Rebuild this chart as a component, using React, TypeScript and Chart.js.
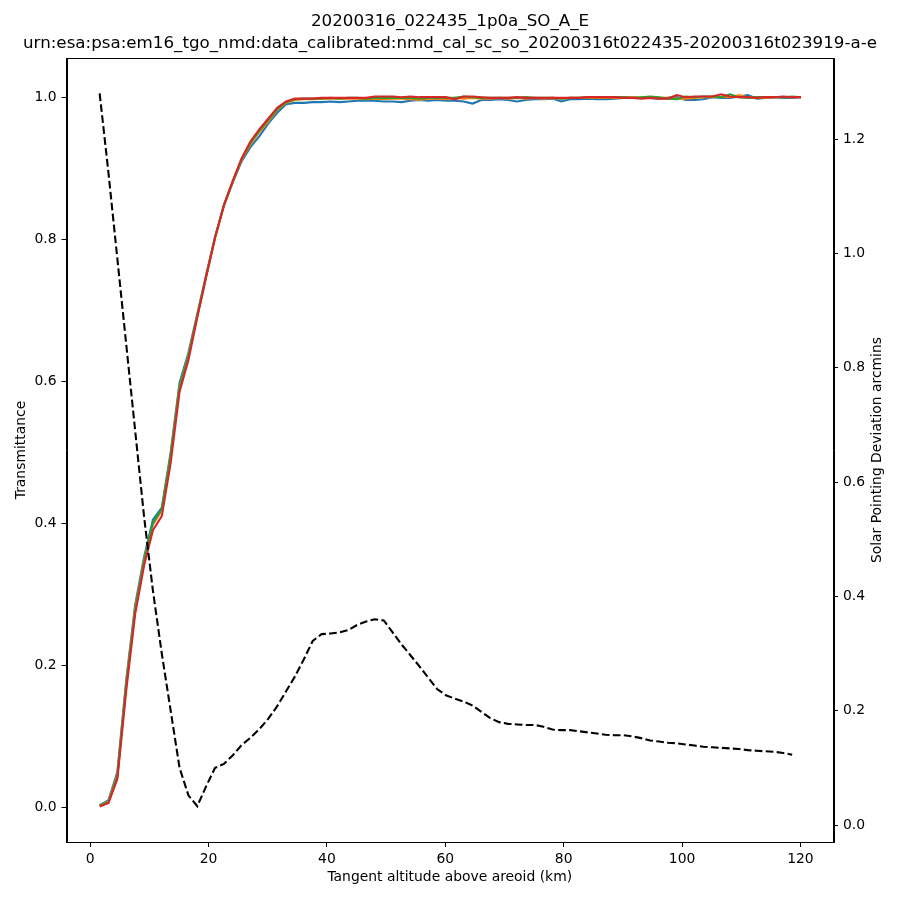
import React, { useEffect, useRef } from 'react';
import { Chart, registerables } from 'chart.js';

Chart.register(...registerables);

const titleLines = [
  '20200316_022435_1p0a_SO_A_E',
  'urn:esa:psa:em16_tgo_nmd:data_calibrated:nmd_cal_sc_so_20200316t022435-20200316t023919-a-e',
];
const xLabel = 'Tangent altitude above areoid (km)';
const yLeftLabel = 'Transmittance';
const yRightLabel = 'Solar Pointing Deviation arcmins';

const xTicks = [0, 20, 40, 60, 80, 100, 120];
const yLeftTicks = [0.0, 0.2, 0.4, 0.6, 0.8, 1.0];
const yRightTicks = [0.0, 0.2, 0.4, 0.6, 0.8, 1.0, 1.2];

const altitudes = [
  1.6, 3.1, 4.6, 6.1, 7.6, 9.1, 10.6, 12.1, 13.6, 15.1, 16.6, 18.1, 19.6, 21.1, 22.6, 24.1,
  25.6, 27.1, 28.6, 30.1, 31.6, 33.1, 34.6, 36.1, 37.6, 39.1, 40.6, 42.1, 43.6, 45.1, 46.6,
  48.1, 49.6, 51.1, 52.6, 54.1, 55.6, 57.1, 58.6, 60.1, 61.6, 63.1, 64.6, 66.1, 67.6, 69.1,
  70.6, 72.1, 73.6, 75.1, 76.6, 78.1, 79.6, 81.1, 82.6, 84.1, 85.6, 87.1, 88.6, 90.1, 91.6,
  93.1, 94.6, 96.1, 97.6, 99.1, 100.6, 102.1, 103.6, 105.1, 106.6, 108.1, 109.6, 111.1,
  112.6, 114.1, 115.6, 117.1, 118.6, 120.1,
];

const transBlue = [
  0.003, 0.010, 0.050, 0.180, 0.285, 0.352, 0.405, 0.422, 0.500, 0.598, 0.640, 0.695, 0.750,
  0.803, 0.848, 0.880, 0.910, 0.930, 0.945, 0.963, 0.978, 0.990, 0.992, 0.992, 0.993, 0.993,
  0.994, 0.993, 0.994, 0.995, 0.995, 0.995, 0.994, 0.994, 0.993, 0.995, 0.996, 0.995, 0.996,
  0.995, 0.995, 0.994, 0.991, 0.996, 0.996, 0.997, 0.996, 0.994, 0.996, 0.997, 0.997, 0.998,
  0.994, 0.997, 0.997, 0.998, 0.997, 0.997, 0.998, 0.999, 0.999, 0.999, 0.999, 0.998, 0.999,
  1.000, 0.996, 0.996, 0.997, 1.000, 0.999, 0.999, 1.001, 1.003, 0.998, 0.999, 1.000, 0.999,
  0.999, 1.000,
];

const transOrange = [
  0.002, 0.008, 0.046, 0.175, 0.280, 0.348, 0.398, 0.418, 0.495, 0.593, 0.636, 0.692, 0.748,
  0.802, 0.847, 0.881, 0.912, 0.934, 0.951, 0.966, 0.982, 0.992, 0.996, 0.997, 0.997, 0.998,
  0.998, 0.998, 0.998, 0.998, 0.997, 0.998, 0.997, 0.998, 0.998, 0.997, 0.996, 0.998, 0.998,
  0.997, 0.999, 0.998, 0.999, 0.998, 0.998, 0.999, 0.998, 0.999, 0.998, 0.999, 0.998, 0.999,
  0.998, 0.999, 0.999, 0.999, 0.999, 0.999, 0.999, 0.999, 1.000, 0.999, 0.999, 0.999, 0.999,
  0.998, 0.998, 0.999, 1.000, 1.000, 1.001, 1.000, 1.003, 1.000, 0.999, 0.999, 1.000, 1.000,
  1.000, 1.000,
];

const transGreen = [
  0.002, 0.007, 0.044, 0.173, 0.278, 0.346, 0.400, 0.420, 0.495, 0.592, 0.635, 0.692, 0.748,
  0.803, 0.848, 0.882, 0.913, 0.936, 0.953, 0.968, 0.983, 0.993, 0.997, 0.998, 0.998, 0.998,
  0.999, 0.998, 0.999, 0.999, 0.998, 0.999, 0.999, 0.999, 0.999, 0.999, 0.998, 0.999, 0.999,
  0.999, 0.999, 1.001, 1.000, 0.999, 0.999, 0.999, 0.999, 0.999, 1.000, 0.999, 0.999, 0.999,
  0.998, 0.999, 0.999, 1.000, 1.000, 1.000, 1.000, 1.000, 0.999, 1.000, 1.001, 1.000, 0.998,
  0.997, 1.001, 1.000, 1.001, 1.001, 1.000, 1.004, 1.000, 0.999, 1.000, 1.000, 1.000, 1.000,
  1.001, 1.000,
];

const transRed = [
  0.001, 0.006, 0.040, 0.165, 0.272, 0.340, 0.390, 0.410, 0.485, 0.585, 0.630, 0.690, 0.747,
  0.802, 0.848, 0.882, 0.914, 0.938, 0.955, 0.970, 0.985, 0.994, 0.998, 0.998, 0.998, 0.999,
  0.999, 0.999, 0.999, 0.999, 0.999, 1.001, 1.001, 1.001, 1.000, 1.001, 1.000, 1.000, 1.000,
  1.000, 0.997, 1.001, 1.001, 1.000, 0.999, 0.999, 0.999, 1.000, 0.999, 0.999, 0.999, 0.999,
  0.999, 0.999, 0.999, 1.000, 1.000, 1.000, 1.000, 0.999, 0.999, 0.998, 0.999, 0.998, 0.998,
  1.003, 1.000, 1.001, 1.001, 1.001, 1.004, 1.001, 1.000, 1.000, 0.999, 1.000, 1.000, 1.001,
  1.000, 1.000,
];

// one value per altitude, except the last altitude
const pointingDeviation = [
  1.28, 1.14, 0.99, 0.84, 0.69, 0.54, 0.41, 0.30, 0.20, 0.10, 0.052, 0.033, 0.068, 0.100,
  0.107, 0.122, 0.140, 0.153, 0.168, 0.186, 0.208, 0.234, 0.260, 0.290, 0.322, 0.334, 0.335,
  0.337, 0.341, 0.350, 0.356, 0.360, 0.358, 0.337, 0.316, 0.297, 0.278, 0.258, 0.238, 0.227,
  0.221, 0.216, 0.209, 0.198, 0.187, 0.180, 0.177, 0.176, 0.175, 0.175, 0.172, 0.167, 0.166,
  0.166, 0.164, 0.162, 0.160, 0.158, 0.157, 0.157, 0.155, 0.152, 0.148, 0.146, 0.144, 0.143,
  0.141, 0.139, 0.137, 0.136, 0.135, 0.134, 0.133, 0.131, 0.130, 0.129, 0.128, 0.126, 0.123,
];

const seriesColors = ['#1f77b4', '#ff7f0e', '#2ca02c', '#d62728'];

const FONT = 'DejaVu Sans';

const frame = {
  id: 'frame',
  afterDraw(chart: any) {
    const { ctx, chartArea } = chart;
    ctx.save();
    ctx.strokeStyle = '#000';
    ctx.lineWidth = 1;
    ctx.strokeRect(
      Math.round(chartArea.left) + 0.5,
      Math.round(chartArea.top) + 0.5,
      Math.round(chartArea.right - chartArea.left),
      Math.round(chartArea.bottom - chartArea.top)
    );
    // right axis title, rotated like matplotlib (reads bottom to top)
    const cx = chart.width - 23;
    const cy = (chartArea.top + chartArea.bottom) / 2;
    ctx.translate(cx, cy);
    ctx.rotate(-Math.PI / 2);
    ctx.fillStyle = '#000';
    ctx.font = `13.9px "${FONT}"`;
    ctx.textAlign = 'center';
    ctx.textBaseline = 'middle';
    ctx.fillText(yRightLabel, 0, 0);
    ctx.restore();
  },
};

export default function App() {
  const ref = useRef<HTMLCanvasElement>(null);

  useEffect(() => {
    if (!ref.current) return;
    const toPts = (arr: number[]) => arr.map((y, i) => ({ x: altitudes[i], y }));
    const transSeries = [transBlue, transOrange, transGreen, transRed];

    const datasets: any[] = transSeries.map((arr, i) => ({
      label: `T${i}`,
      data: toPts(arr),
      borderColor: seriesColors[i],
      backgroundColor: seriesColors[i],
      borderWidth: 2.1,
      pointRadius: 0,
      yAxisID: 'y',
      order: 4 - i,
    }));
    datasets.push({
      label: 'pointing',
      data: toPts(pointingDeviation),
      borderColor: '#000',
      backgroundColor: '#000',
      borderWidth: 2.1,
      borderDash: [7.7, 3.3],
      pointRadius: 0,
      yAxisID: 'y1',
      order: 0,
    });

    const tickFont = { family: FONT, size: 13.9 };
    const labelFont = { family: FONT, size: 13.9 };
    const gridOpts = {
      drawOnChartArea: false,
      drawTicks: true,
      tickLength: 5,
      color: '#000',
      tickColor: '#000',
      tickWidth: 1,
    };
    const borderOpts = { display: true, color: '#000', width: 1 };

    const chart = new Chart(ref.current, {
      type: 'line',
      data: { datasets },
      plugins: [frame],
      options: {
        animation: false,
        responsive: false,
        devicePixelRatio: 1,
        layout: { padding: 0 },
        plugins: {
          legend: { display: false },
          tooltip: { enabled: false },
          title: {
            display: true,
            text: titleLines,
            color: '#000',
            font: { family: FONT, size: 16.7, weight: 'normal', lineHeight: 1.3 },
            padding: { top: 11, bottom: 3.7 },
          },
        },
        scales: {
          x: {
            type: 'linear',
            position: 'bottom',
            min: -4.0,
            max: 125.5,
            afterBuildTicks: (s: any) => {
              s.ticks = xTicks.map((v) => ({ value: v }));
            },
            afterFit: (s: any) => {
              s.height = 58;
            },
            ticks: {
              font: tickFont,
              color: '#000',
              padding: 4,
              maxRotation: 0,
              autoSkip: false,
              callback: (v: any) => String(v),
            },
            grid: gridOpts,
            border: borderOpts,
            title: {
              display: true,
              text: xLabel,
              color: '#000',
              font: labelFont,
              padding: { top: 0, bottom: 14.5 },
            },
          },
          y: {
            type: 'linear',
            position: 'left',
            min: -0.049,
            max: 1.055,
            afterBuildTicks: (s: any) => {
              s.ticks = yLeftTicks.map((v) => ({ value: v }));
            },
            afterFit: (s: any) => {
              s.width = 66.5;
            },
            ticks: {
              font: tickFont,
              color: '#000',
              padding: 5,
              autoSkip: false,
              callback: (v: any) => Number(v).toFixed(1),
            },
            grid: gridOpts,
            border: borderOpts,
            title: {
              display: true,
              text: yLeftLabel,
              color: '#000',
              font: labelFont,
              padding: { top: 12.7, bottom: 0 },
            },
          },
          y1: {
            type: 'linear',
            position: 'right',
            min: -0.0297,
            max: 1.3417,
            afterBuildTicks: (s: any) => {
              s.ticks = yRightTicks.map((v) => ({ value: v }));
            },
            afterFit: (s: any) => {
              s.width = 67;
            },
            ticks: {
              font: tickFont,
              color: '#000',
              padding: 5,
              autoSkip: false,
              callback: (v: any) => Number(v).toFixed(1),
            },
            grid: gridOpts,
            border: borderOpts,
            title: { display: false },
          },
        },
      } as any,
    });
    return () => chart.destroy();
  }, []);

  return (
    <div style={{ position: 'absolute', left: 0, top: 0, width: 900, height: 900, background: '#fff' }}>
      <canvas ref={ref} width={900} height={900} style={{ display: 'block', width: 900, height: 900 }} />
    </div>
  );
}
